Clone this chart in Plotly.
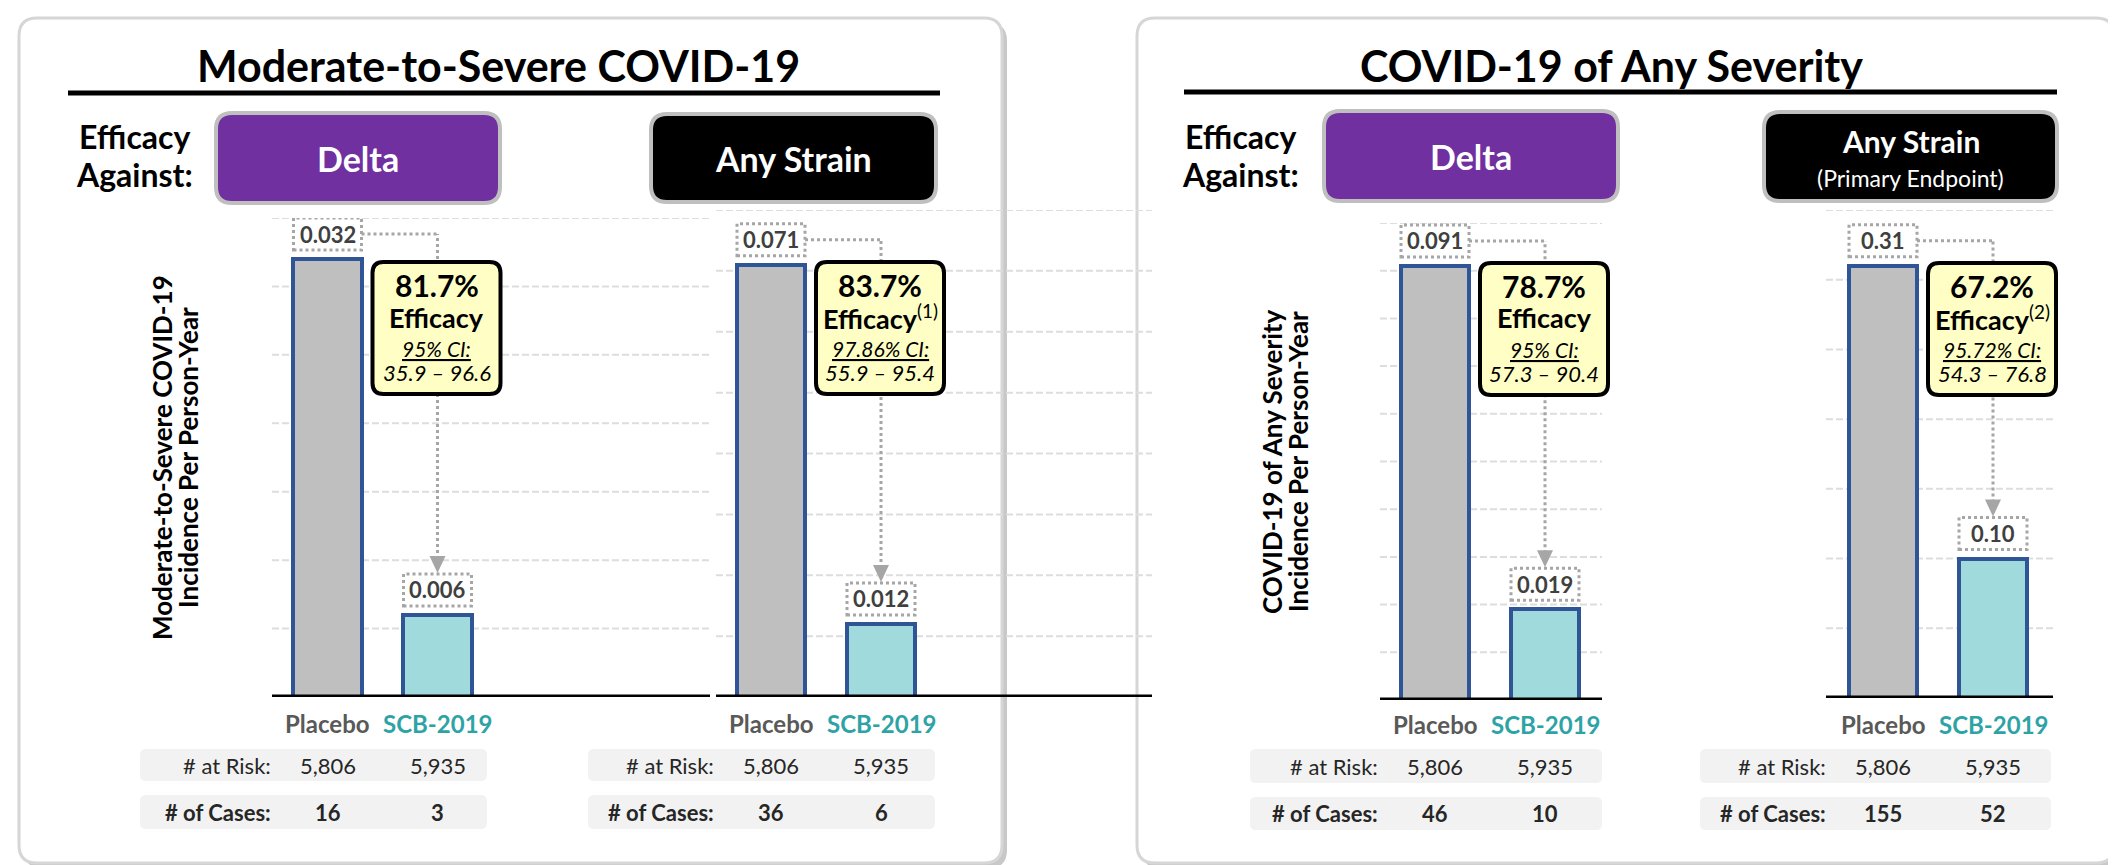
import plotly.graph_objects as go

# ---------------- data ----------------
categories = ["Placebo", "SCB-2019"]
mod_severe_delta = [0.032, 0.006]
mod_severe_any = [0.071, 0.012]
any_severity_delta = [0.091, 0.019]
any_severity_any = [0.31, 0.10]
value_labels = [["0.032", "0.006"], ["0.071", "0.012"], ["0.091", "0.019"], ["0.31", "0.10"]]
efficacy_pct = ["81.7%", "83.7%", "78.7%", "67.2%"]
efficacy_note = ["", "(1)", "", "(2)"]
ci_label = ["95% CI:", "97.86% CI:", "95% CI:", "95.72% CI:"]
ci_range = ["35.9 – 96.6", "55.9 – 95.4", "57.3 – 90.4", "54.3 – 76.8"]
at_risk = ["5,806", "5,935"]
cases = [["16", "3"], ["36", "6"], ["46", "10"], ["155", "52"]]
section_titles = ["Moderate-to-Severe COVID-19", "COVID-19 of Any Severity"]
strain_labels = ["Delta", "Any Strain", "Delta", "Any Strain"]
strain_sub = ["", "", "", "(Primary Endpoint)"]
y_titles = [["Moderate-to-Severe COVID-19", "Incidence Per Person-Year"],
            ["COVID-19 of Any Severity", "Incidence Per Person-Year"]]
y_max = [0.035, 0.08, 0.10, 0.35]
y_step = [0.005, 0.01, 0.01, 0.05]
series = [mod_severe_delta, mod_severe_any, any_severity_delta, any_severity_any]

# ---------------- styling / geometry (pixels) ----------------
W, H = 2116, 865
FONT = "Lato"
GRAY_BAR = "#BFBFBF"
TEAL_BAR = "#A1DADC"
EDGE = "#2F5597"
DOT = "#A6A6A6"
PURPLE = "#7030A0"
UNIT = 110  # px per category step

# x0/x1: extent of grid + baseline; c0: pixel centre of first bar; dom0: left of subplot domain
GEOM = [
    dict(x0=264, x1=702, dom0=262, c0=319.5, base=689, top=210),
    dict(x0=708, x1=1144, dom0=690, c0=763, base=689, top=202),
    dict(x0=1372, x1=1594, dom0=1370, c0=1427, base=692, top=215),
    dict(x0=1818, x1=2045, dom0=1816, c0=1875, base=690, top=202),
]
HEADER_BOX = [(208, 105, 492, 195), (643, 106, 928, 194), (1316, 103, 1610, 193), (1756, 104, 2049, 193)]
TABLE_X = [(132, 479), (580, 927), (1242, 1594), (1692, 2043)]
CARDS = [(11, 10, 994, 855), (1129, 10, 2106, 855)]


def px(x):
    return x / W


def py(y):
    return 1 - y / H


def rpath(x0, y0, x1, y1, r):
    pts = [
        (x0 + r, y0), (x1 - r, y0), (x1, y0), (x1, y0 + r), (x1, y1 - r), (x1, y1),
        (x1 - r, y1), (x0 + r, y1), (x0, y1), (x0, y1 - r), (x0, y0 + r), (x0, y0), (x0 + r, y0)]
    P = [(px(a), py(b)) for a, b in pts]
    s = f"M {P[0][0]},{P[0][1]} L {P[1][0]},{P[1][1]} Q {P[2][0]},{P[2][1]} {P[3][0]},{P[3][1]} "
    s += f"L {P[4][0]},{P[4][1]} Q {P[5][0]},{P[5][1]} {P[6][0]},{P[6][1]} "
    s += f"L {P[7][0]},{P[7][1]} Q {P[8][0]},{P[8][1]} {P[9][0]},{P[9][1]} "
    s += f"L {P[10][0]},{P[10][1]} Q {P[11][0]},{P[11][1]} {P[12][0]},{P[12][1]} Z"
    return s


fig = go.Figure()
shapes = []
ann = []

# cards
for (x0, y0, x1, y1) in CARDS:
    shapes.append(dict(type="path", xref="paper", yref="paper", path=rpath(x0 + 5, y0 + 5, x1 + 5, y1 + 5, 18),
                       fillcolor="#C8C8C8", line=dict(width=0), layer="below"))
    shapes.append(dict(type="path", xref="paper", yref="paper", path=rpath(x0, y0, x1, y1, 18),
                       fillcolor="white", line=dict(color="#D6D6D6", width=3), layer="below"))

# section titles + underline
for k, (cx, lx0, lx1, ly) in enumerate([(490, 60, 932, 85), (1603, 1176, 2049, 84)]):
    ann.append(dict(x=px(cx), y=py(57), xref="paper", yref="paper", showarrow=False,
                    text=f"<b>{section_titles[k]}</b>", font=dict(family=FONT, size=43, color="black"),
                    xanchor="center", yanchor="middle"))
    shapes.append(dict(type="line", xref="paper", yref="paper", x0=px(lx0), x1=px(lx1), y0=py(ly), y1=py(ly),
                       line=dict(color="black", width=5)))

# "Efficacy Against:"
for cx in (126, 1232):
    ann.append(dict(x=px(cx), y=py(129), xref="paper", yref="paper", showarrow=False, text="<b>Efficacy</b>",
                    font=dict(family=FONT, size=32, color="black"), xanchor="center", yanchor="middle"))
    ann.append(dict(x=px(cx), y=py(167), xref="paper", yref="paper", showarrow=False, text="<b>Against:</b>",
                    font=dict(family=FONT, size=32, color="black"), xanchor="center", yanchor="middle"))

# strain header boxes
for i, (x0, y0, x1, y1) in enumerate(HEADER_BOX):
    fill = PURPLE if strain_labels[i] == "Delta" else "black"
    shapes.append(dict(type="path", xref="paper", yref="paper", path=rpath(x0, y0, x1, y1, 16),
                       fillcolor=fill, line=dict(color="#BFBFBF", width=4)))
    cx = (x0 + x1) / 2
    if strain_sub[i]:
        ann.append(dict(x=px(cx), y=py(133), xref="paper", yref="paper", showarrow=False,
                        text=f"<b>{strain_labels[i]}</b>", font=dict(family=FONT, size=30, color="white"),
                        xanchor="center", yanchor="middle"))
        ann.append(dict(x=px(cx), y=py(170), xref="paper", yref="paper", showarrow=False,
                        text=strain_sub[i], font=dict(family=FONT, size=23, color="white"),
                        xanchor="center", yanchor="middle"))
    else:
        ann.append(dict(x=px(cx), y=py((y0 + y1) / 2), xref="paper", yref="paper", showarrow=False,
                        text=f"<b>{strain_labels[i]}</b>", font=dict(family=FONT, size=34, color="white"),
                        xanchor="center", yanchor="middle"))

# y-axis titles
for k, (lx, cy) in enumerate([(154, 450), (1264, 454)]):
    for j in range(2):
        ann.append(dict(x=px(lx + 26 * j), y=py(cy), xref="paper", yref="paper", showarrow=False,
                        text=f"<b>{y_titles[k][j]}</b>", textangle=-90,
                        font=dict(family=FONT, size=26, color="black"), xanchor="center", yanchor="middle"))

layout_axes = {}
for i, g in enumerate(GEOM):
    sfx = "" if i == 0 else str(i + 1)
    xa, ya = "x" + sfx, "y" + sfx
    vals = series[i]
    ymax, ystep = y_max[i], y_step[i]
    r0 = -(g["c0"] - g["dom0"]) / UNIT
    r1 = r0 + (g["x1"] - g["dom0"]) / UNIT
    fig.add_trace(go.Bar(x=categories, y=vals, xaxis=xa, yaxis=ya, width=0.62,
                         marker=dict(color=[GRAY_BAR, TEAL_BAR], line=dict(color=EDGE, width=4)),
                         showlegend=False, hoverinfo="skip"))
    layout_axes["xaxis" + sfx] = dict(domain=[px(g["dom0"]), px(g["x1"])], range=[r0, r1], type="category",
                                      categoryorder="array", categoryarray=categories, anchor=ya,
                                      visible=False, fixedrange=True)
    layout_axes["yaxis" + sfx] = dict(domain=[py(g["base"]), py(g["top"])], range=[0, ymax],
                                      anchor=xa, visible=False, fixedrange=True)
    ppu = (g["base"] - g["top"]) / ymax                       # px per data unit
    hw = 34 / UNIT

    # dashed gridlines at each y step (span the chart area)
    nsteps = int(round(ymax / ystep))
    for k in range(1, nsteps + 1):
        shapes.append(dict(type="line", xref="paper", yref=ya, x0=px(g["x0"]), x1=px(g["x1"]),
                           y0=k * ystep, y1=k * ystep,
                           line=dict(color="#DDDDDD", width=2, dash="7px,3px"), layer="below"))

    # baseline
    shapes.append(dict(type="line", xref="paper", yref=ya, x0=px(g["x0"]), x1=px(g["x1"]), y0=0, y1=0,
                       line=dict(color="black", width=5)))

    # value label boxes
    for j in range(2):
        shapes.append(dict(type="rect", xref=xa, yref=ya, x0=j - hw, x1=j + hw,
                           y0=vals[j] + 9 / ppu, y1=vals[j] + 41 / ppu,
                           fillcolor="white", line=dict(color=DOT, width=3, dash="dot")))
        ann.append(dict(x=j, y=vals[j], xref=xa, yref=ya, yshift=25, showarrow=False,
                        text=f"<b>{value_labels[i][j]}</b>", font=dict(family=FONT, size=22, color="#404040"),
                        xanchor="center", yanchor="middle"))

    # connector: horizontal from placebo label, vertical down to SCB label, arrowhead
    yc = vals[0] + 25 / ppu
    shapes.append(dict(type="line", xref=xa, yref=ya, x0=hw, x1=1, y0=yc, y1=yc,
                       line=dict(color=DOT, width=3, dash="dot")))
    shapes.append(dict(type="line", xref=xa, yref=ya, x0=1, x1=1, y0=vals[1] + 56 / ppu, y1=yc,
                       line=dict(color=DOT, width=3, dash="dot")))
    ah = 8 / UNIT
    shapes.append(dict(type="path", xref=xa, yref=ya,
                       path=f"M {1 - ah},{vals[1] + 59 / ppu} L {1 + ah},{vals[1] + 59 / ppu} "
                            f"L 1,{vals[1] + 42 / ppu} Z",
                       fillcolor=DOT, line=dict(width=0)))

    # efficacy box
    cx = g["c0"] + UNIT - 1
    off = 0 if i < 2 else 1
    shapes.append(dict(type="path", xref="paper", yref="paper",
                       path=rpath(cx - 64, 254 + off, cx + 64, 386 + off, 11),
                       fillcolor="#FFFFC5", line=dict(color="black", width=4)))
    note = f"<sup>{efficacy_note[i]}</sup>" if efficacy_note[i] else ""
    lines = [(277, f"<b>{efficacy_pct[i]}</b>", 30), (309, f"<b>Efficacy</b>{note}", 27),
             (340, f"<i><u>{ci_label[i]}</u></i>", 21), (364, f"<i>{ci_range[i]}</i>", 22)]
    for (yy, txt, sz) in lines:
        ann.append(dict(x=px(cx), y=py(yy + off), xref="paper", yref="paper", showarrow=False, text=txt,
                        font=dict(family=FONT, size=sz, color="black"), xanchor="center", yanchor="middle"))

    # category labels
    ty = 715 if i < 2 else 716
    for j, col in enumerate(["#595959", "#2EA3A6"]):
        ann.append(dict(x=j, y=py(ty), xref=xa, yref="paper", showarrow=False,
                        text=f"<b>{categories[j]}</b>", font=dict(family=FONT, size=24, color=col),
                        xanchor="center", yanchor="middle"))

    # table rows
    tx0, tx1 = TABLE_X[i]
    rows = [(741, 773, "# at Risk:", at_risk, False), (787, 821, "# of Cases:", cases[i], True)]
    if i >= 2:
        rows = [(741, 775, "# at Risk:", at_risk, False), (789, 822, "# of Cases:", cases[i], True)]
    for (ra, rb, lab, vv, bold) in rows:
        shapes.append(dict(type="path", xref="paper", yref="paper", path=rpath(tx0, ra, tx1, rb, 6),
                           fillcolor="#F2F2F2", line=dict(width=0), layer="below"))
        cy = py((ra + rb) / 2)
        b0, b1 = ("<b>", "</b>") if bold else ("", "")
        ann.append(dict(x=0, xshift=-55, y=cy, xref=xa, yref="paper", showarrow=False,
                        text=f"{b0}{lab}{b1}", font=dict(family=FONT, size=22, color="#262626"),
                        xanchor="right", yanchor="middle"))
        for j in range(2):
            ann.append(dict(x=j, y=cy, xref=xa, yref="paper", showarrow=False,
                            text=f"{b0}{vv[j]}{b1}", font=dict(family=FONT, size=22, color="#262626"),
                            xanchor="center", yanchor="middle"))

fig.update_layout(
    template="none",
    width=W, height=H, autosize=False,
    margin=dict(l=0, r=0, t=0, b=0, pad=0),
    paper_bgcolor="white", plot_bgcolor="rgba(0,0,0,0)",
    shapes=shapes, annotations=ann, bargap=0, showlegend=False,
    **layout_axes,
)

fig.write_html("out.html")
